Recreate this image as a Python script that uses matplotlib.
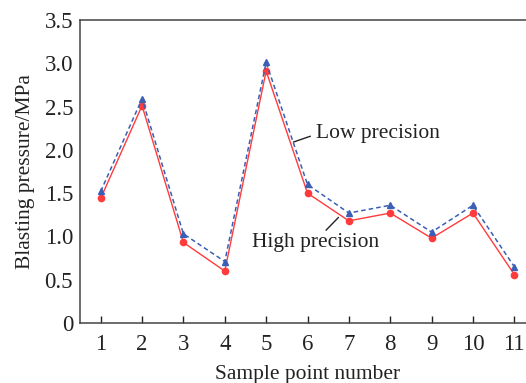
import matplotlib.pyplot as plt

plt.rcParams['font.family'] = ['Liberation Serif', 'DejaVu Serif']

sample = [1, 2, 3, 4, 5, 6, 7, 8, 9, 10, 11]
low_precision = [1.52, 2.59, 1.03, 0.71, 3.01, 1.60, 1.27, 1.36, 1.05, 1.36, 0.65]
high_precision = [1.44, 2.51, 0.93, 0.60, 2.91, 1.50, 1.18, 1.27, 0.98, 1.27, 0.56]
y_ticks = [0, 0.5, 1.0, 1.5, 2.0, 2.5, 3.0, 3.5]
y_tick_labels = ['0', '0.5', '1.0', '1.5', '2.0', '2.5', '3.0', '3.5']

fig = plt.figure(figsize=(5.26, 3.83), dpi=100)
# right edge runs past the figure, like the cropped original
ax = fig.add_axes([80 / 526, 1 - 323 / 383, 455 / 526, 303 / 383])

ax.plot(sample, high_precision, color='#ff3b3b', linewidth=1.0,
        marker='o', markersize=4.5, zorder=3)
ax.plot(sample, low_precision, color='#3a5fb5', linewidth=1.1, linestyle=(0, (3, 2)),
        marker='^', markersize=5, zorder=4)

ax.set_xlim(0.5, 11.5)
ax.set_ylim(0, 3.5)
ax.set_xticks(sample)
ax.set_yticks(y_ticks)
ax.set_yticklabels(y_tick_labels)
ax.tick_params(axis='x', direction='in', length=5, width=1, labelsize=16.5, pad=8, colors='#222222')
ax.tick_params(axis='y', length=0, labelsize=16.5, pad=5, colors='#222222')
for s in ax.spines.values():
    s.set_color('#444444')
    s.set_linewidth(1.1)

ax.set_xlabel('Sample point number', fontsize=15.5, color='#222222', labelpad=7)
ax.set_ylabel('Blasting pressure/MPa', fontsize=15.5, color='#222222', labelpad=7)

ax.annotate('Low precision', xy=(5.66, 2.09), xytext=(6.2, 2.19),
            fontsize=15.5, color='#222222', va='center', ha='left',
            arrowprops=dict(arrowstyle='-', color='#222222', linewidth=1,
                            shrinkA=2, shrinkB=0, relpos=(0.0, 0.45)))
ax.annotate('High precision', xy=(6.75, 1.22), xytext=(4.67, 0.93),
            fontsize=15.5, color='#222222', va='center', ha='left',
            arrowprops=dict(arrowstyle='-', color='#222222', linewidth=1,
                            shrinkA=0, shrinkB=0, relpos=(0.55, 0.95)))

fig.savefig('out.png', dpi=100)
